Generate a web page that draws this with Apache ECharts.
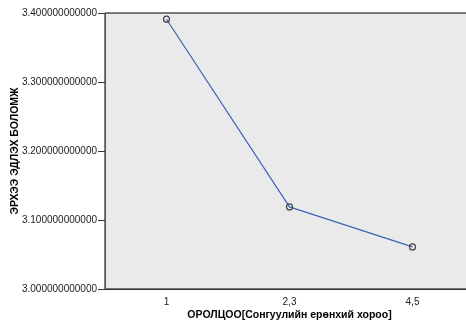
<!DOCTYPE html>
<html><head><meta charset="utf-8">
<script src="https://cdn.jsdelivr.net/npm/echarts@6/dist/echarts.min.js"></script>
<style>html,body{margin:0;padding:0;background:#fff}#c{width:466px;height:320px}</style>
</head><body><div id="c"></div>
<script>
const categories = ['1', '2,3', '4,5'];
const values = [3.391, 3.119, 3.061];
const yTicks = [3.0, 3.1, 3.2, 3.3, 3.4];
const xTitle = 'ОРОЛЦОО[Сонгуулийн ерөнхий хороо]';
const yTitle = 'ЭРХЭЭ ЭДЛЭХ БОЛОМЖ';

const chart = echarts.init(document.getElementById('c'), null, {renderer: 'canvas'});
const font = 'Liberation Sans, Arial, sans-serif';
chart.setOption({
  animation: false,
  grid: {left: 105, top: 13, width: 369, height: 276, containLabel: false, outerBoundsMode: 'none',
         show: true, backgroundColor: '#eaeaea', borderColor: '#000', borderWidth: 1},
  xAxis: {
    type: 'category', data: categories, boundaryGap: true,
    name: xTitle, nameLocation: 'middle', nameGap: 21, nameMoveOverlap: false,
    nameTextStyle: {fontFamily: font, fontWeight: 'bold', fontSize: 10.5, color: '#000'},
    axisLine: {lineStyle: {color: '#333', width: 1}},
    axisTick: {alignWithLabel: true, length: 6, lineStyle: {color: '#333'}},
    axisLabel: {fontFamily: font, fontSize: 10, color: '#222', margin: 8}
  },
  yAxis: {
    type: 'value', min: yTicks[0], max: yTicks[yTicks.length - 1], interval: 0.1,
    name: yTitle, nameLocation: 'middle', nameGap: 84, nameRotate: 90, nameMoveOverlap: false,
    nameTextStyle: {fontFamily: font, fontWeight: 'bold', fontSize: 10.5, color: '#000'},
    axisLine: {show: true, lineStyle: {color: '#555', width: 1}},
    axisTick: {show: true, length: 7, lineStyle: {color: '#333'}},
    splitLine: {show: false},
    axisLabel: {fontFamily: font, fontSize: 10, color: '#222', margin: 8, formatter: v => v.toFixed(12)}
  },
  series: [{
    type: 'line', data: values,
    symbol: 'circle', symbolSize: 6,
    itemStyle: {color: 'rgba(0,0,0,0)', borderColor: '#444', borderWidth: 1.2},
    lineStyle: {color: '#3a64b4', width: 1.2}
  }]
});
</script></body></html>
